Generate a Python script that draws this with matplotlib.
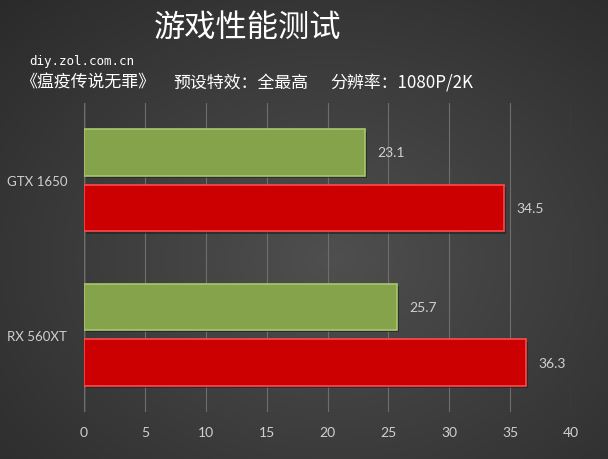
import numpy as np
import matplotlib
matplotlib.use("Agg")
import matplotlib.pyplot as plt

plt.rcParams['font.family'] = ['Noto Sans CJK SC', 'DejaVu Sans']

# 数据
cards = ["GTX 1650", "RX 560XT"]
fps_1080p = [23.1, 25.7]
fps_2k = [34.5, 36.3]
xticks = [0, 5, 10, 15, 20, 25, 30, 35, 40]

fig = plt.figure(figsize=(6.08, 4.60), dpi=100)

# 背景（放射状グラデーション）
bg = fig.add_axes([0, 0, 1, 1])
yy, xx = np.mgrid[0:460, 0:608]
r = np.sqrt(((xx - 330) / 420.0) ** 2 + ((yy - 260) / 330.0) ** 2)
shade = np.clip(0.31 - 0.13 * r, 0.15, 0.31)
bg.imshow(np.dstack([shade] * 3), aspect='auto', extent=[0, 1, 0, 1])
bg.set_axis_off()

ax = fig.add_axes([84 / 608, 1 - 413 / 460, (571 - 84) / 608, (413 - 104) / 460])
ax.set_facecolor('none')

y = np.arange(len(cards))[::-1]
h = 0.30
off = 0.18

green = "#85a34a"
red = "#cc0000"
txt = "#d0d0d0"
num_font = ['Lato', 'DejaVu Sans']

ax.barh(y + off, fps_1080p, height=h, color=green, edgecolor="#a8c76d", linewidth=1.2, zorder=3)
ax.barh(y - off, fps_2k, height=h, color=red, edgecolor="#ff4a4a", linewidth=1.2, zorder=3)
# 阴影
ax.barh(y + off - 0.015, fps_1080p, height=h, left=0.15, color="#1e1e1e", alpha=0.6, zorder=2)
ax.barh(y - off - 0.015, fps_2k, height=h, left=0.15, color="#1e1e1e", alpha=0.6, zorder=2)

for yi, v in zip(y, fps_1080p):
    ax.text(v + 1.0, yi + off, str(v), va='center', ha='left', color=txt, fontsize=10, family=num_font)
for yi, v in zip(y, fps_2k):
    ax.text(v + 1.0, yi - off, str(v), va='center', ha='left', color=txt, fontsize=10, family=num_font)

ax.set_xlim(0, 40)
ax.set_ylim(-0.5, 1.5)
ax.set_xticks(xticks)
ax.set_xticklabels([str(t) for t in xticks], color=txt, fontsize=10, family=num_font)
ax.set_yticks(y)
ax.set_yticklabels(cards, color=txt, fontsize=9.5, family=num_font)
ax.tick_params(axis='y', length=0, pad=12)
ax.tick_params(axis='x', length=0, pad=10)
ax.grid(axis='x', color="#6e6e6e", linewidth=0.8, zorder=0)
ax.axvline(0, color="#9a9a9a", linewidth=1.0, zorder=1)
for s in ax.spines.values():
    s.set_visible(False)

fig.text(248 / 608, 1 - 28 / 460, "游戏性能测试", ha='center', va='center', color='white', fontsize=22.5)
fig.text(29 / 608, 1 - 62 / 460, "diy.zol.com.cn", ha='left', va='center', color='white', fontsize=9, family=['DejaVu Sans Mono'])
fig.text(20 / 608, 1 - 83 / 460, "《瘟疫传说无罪》", ha='left', va='center', color='white', fontsize=12.2)
fig.text(173 / 608, 1 - 83 / 460, "预设特效：全最高", ha='left', va='center', color='white', fontsize=12.2)
fig.text(330 / 608, 1 - 83 / 460, "分辨率：1080P/2K", ha='left', va='center', color='white', fontsize=12.2)

fig.savefig("out.png", dpi=100)
